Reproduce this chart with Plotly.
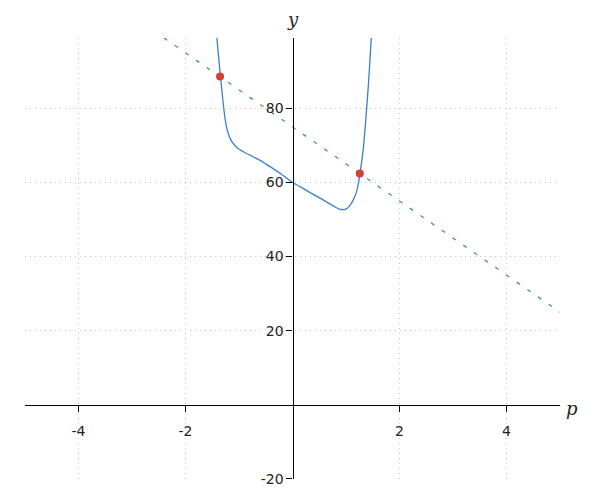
import plotly.graph_objects as go

# Curve samples (p, y)
curve_p = [-1.442, -1.423, -1.401, -1.375, -1.348, -1.324, -1.301, -1.281, -1.258, -1.232,
           -1.202, -1.165, -1.124, -1.077, -1.011, -0.918, -0.787, -0.599, -0.412, -0.225,
           0.0, 0.150, 0.337, 0.524, 0.712, 0.805, 0.861, 0.918, 0.974, 1.030,
           1.086, 1.142, 1.199, 1.236, 1.260, 1.292, 1.324, 1.354, 1.386, 1.414,
           1.438, 1.461, 1.479, 1.498]
curve_y = [103.7, 100.5, 97.0, 92.9, 88.9, 85.4, 82.2, 79.5, 77.0, 74.9,
           73.3, 71.9, 70.8, 70.0, 69.1, 68.3, 67.3, 65.9, 64.2, 62.4,
           60.0, 58.8, 57.2, 55.7, 54.1, 53.3, 52.9, 52.7, 52.7, 53.1,
           54.0, 55.5, 57.6, 60.1, 62.4, 65.5, 69.2, 74.1, 80.0, 85.4,
           90.8, 96.2, 101.0, 105.9]

# Dashed line endpoints
line_p = [-5, 5]
line_y = [125, 25]

# Intersection points
pts_p = [-1.354, 1.258]
pts_y = [88.6, 62.4]

x_ticks = [-4, -2, 2, 4]
x_ticktext = ["-4", "-2", "2", "4"]
y_ticks = [-20, 20, 40, 60, 80]
y_ticktext = ["-20", "20", "40", "60", "80"]

x_range = [-5, 5]
y_range = [-20.05, 99]

fig = go.Figure()
fig.add_trace(go.Scatter(x=line_p, y=line_y, mode="lines",
                         line=dict(color="#43a047", width=1.3, dash="4px,9px"),
                         hoverinfo="skip"))
fig.add_trace(go.Scatter(x=curve_p, y=curve_y, mode="lines",
                         line=dict(color="#3a7fcf", width=1.3, shape="spline", smoothing=0.5),
                         hoverinfo="skip"))
fig.add_trace(go.Scatter(x=pts_p, y=pts_y, mode="markers",
                         marker=dict(color="#d63f35", size=8),
                         hoverinfo="skip"))

ypos = (0 - y_range[0]) / (y_range[1] - y_range[0])
xpos = (0 - x_range[0]) / (x_range[1] - x_range[0])

fig.update_layout(
    width=592, height=492,
    margin=dict(l=17, r=40, t=30, b=21, autoexpand=False),
    plot_bgcolor="white", paper_bgcolor="white",
    showlegend=False,
    font=dict(family="DejaVu Sans", size=14, color="#222"),
    xaxis=dict(range=x_range, tickvals=x_ticks, ticktext=x_ticktext,
               showgrid=True, gridcolor="#c4c4c4", griddash="1px,4px", gridwidth=1,
               zeroline=False, showline=True, linecolor="black", linewidth=1.3,
               ticks="outside", ticklen=6, tickcolor="black", automargin=False,
               tickfont=dict(size=14),
               anchor="free", position=ypos, ticklabelstandoff=7),
    yaxis=dict(range=y_range, tickvals=y_ticks, ticktext=y_ticktext,
               showgrid=True, gridcolor="#c4c4c4", griddash="1px,4px", gridwidth=1,
               zeroline=False, showline=True, linecolor="black", linewidth=1.3,
               ticks="outside", ticklen=6, tickcolor="black", automargin=False,
               tickfont=dict(size=14),
               anchor="free", position=xpos),
    annotations=[
        dict(text="<i>p</i>", x=1, xref="paper", xanchor="left", xshift=4,
             y=0, yref="y", yanchor="middle", yshift=-4, showarrow=False,
             font=dict(family="DejaVu Serif", size=18, color="#222")),
        dict(text="<i>y</i>", x=0, xref="x", xanchor="center",
             y=1, yref="paper", yanchor="bottom", yshift=6, showarrow=False,
             font=dict(family="DejaVu Serif", size=18, color="#222")),
    ],
)

fig.write_html("out.html")
